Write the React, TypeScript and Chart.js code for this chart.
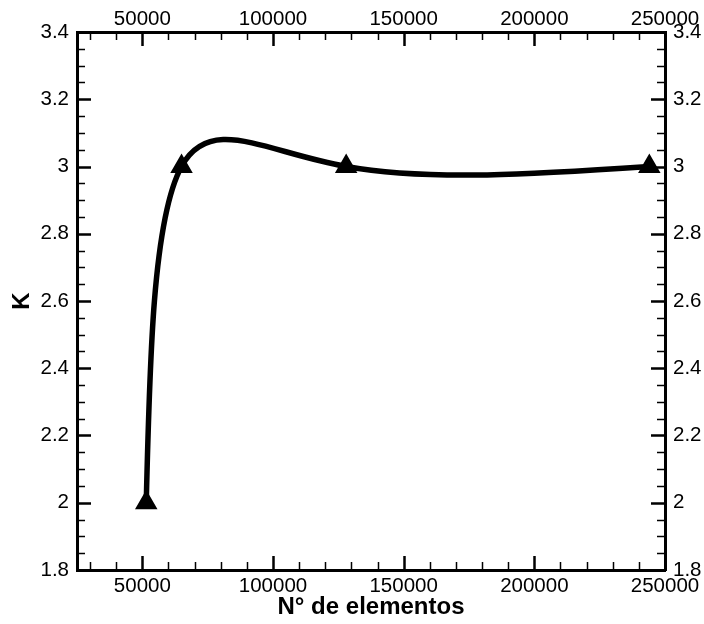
import React, { useEffect, useRef } from "react";
import { Chart, registerables } from "chart.js";

Chart.register(...registerables);

// ---- data ----
const elementos = [51500, 65000, 128000, 244000];
const kValues = [2, 3, 3, 3];

// ---- axes ----
const xMajorTicks = [50000, 100000, 150000, 200000, 250000];
const xMinorStep = 10000;
const xMin = 25000;
const xMax = 250000;
const yMajorTicks = [1.8, 2, 2.2, 2.4, 2.6, 2.8, 3, 3.2, 3.4];
const yTickLabels = ["1.8", "2", "2.2", "2.4", "2.6", "2.8", "3", "3.2", "3.4"];
const yMinorStep = 0.05;
const yMin = 1.8;
const yMax = 3.4;

const xTitle = "N° de elementos";
const yTitle = "K";

const FONT = "'Liberation Sans', Arial, Helvetica, sans-serif";

// natural cubic spline second derivatives, uniform parameter
function naturalM(v: number[]): number[] {
  const n = v.length;
  const M = new Array(n).fill(0);
  if (n < 3) return M;
  const m = n - 2;
  const a = new Array(m).fill(1);
  const b = new Array(m).fill(4);
  const c = new Array(m).fill(1);
  const d = new Array(m);
  for (let i = 1; i <= m; i++) d[i - 1] = 6 * (v[i + 1] - 2 * v[i] + v[i - 1]);
  const cp = new Array(m);
  const dp = new Array(m);
  cp[0] = c[0] / b[0];
  dp[0] = d[0] / b[0];
  for (let i = 1; i < m; i++) {
    const den = b[i] - a[i] * cp[i - 1];
    cp[i] = c[i] / den;
    dp[i] = (d[i] - a[i] * dp[i - 1]) / den;
  }
  const sol = new Array(m);
  sol[m - 1] = dp[m - 1];
  for (let i = m - 2; i >= 0; i--) sol[i] = dp[i] - cp[i] * sol[i + 1];
  for (let i = 0; i < m; i++) M[i + 1] = sol[i];
  return M;
}

const splineLine = {
  id: "splineLine",
  beforeDatasetsDraw(chart: any) {
    const { ctx } = chart;
    const xs = chart.scales.x;
    const ys = chart.scales.y;
    const px = elementos.map((v) => xs.getPixelForValue(v));
    const py = kValues.map((v) => ys.getPixelForValue(v));
    const Mx = naturalM(px);
    const My = naturalM(py);
    const dAt = (v: number[], M: number[], i: number) => {
      if (i < v.length - 1) return v[i + 1] - v[i] - (2 * M[i] + M[i + 1]) / 6;
      return v[i] - v[i - 1] + (M[i - 1] + 2 * M[i]) / 6;
    };
    ctx.save();
    ctx.strokeStyle = "#000";
    ctx.lineWidth = 5.5;
    ctx.lineJoin = "round";
    ctx.lineCap = "round";
    ctx.beginPath();
    ctx.moveTo(px[0], py[0]);
    for (let i = 0; i < px.length - 1; i++) {
      const dx0 = dAt(px, Mx, i);
      const dy0 = dAt(py, My, i);
      const dx1 = dAt(px, Mx, i + 1);
      const dy1 = dAt(py, My, i + 1);
      ctx.bezierCurveTo(
        px[i] + dx0 / 3,
        py[i] + dy0 / 3,
        px[i + 1] - dx1 / 3,
        py[i + 1] - dy1 / 3,
        px[i + 1],
        py[i + 1]
      );
    }
    ctx.stroke();
    ctx.restore();
  },
};

const innerTicks = {
  id: "innerTicks",
  afterDatasetsDraw(chart: any) {
    const { ctx, chartArea } = chart;
    const { left, right, top, bottom } = chartArea;
    const xs = chart.scales.x;
    const ys = chart.scales.y;
    ctx.save();
    ctx.strokeStyle = "#000";
    ctx.lineCap = "butt";
    const majorLen = 14;
    const minorLen = 8;
    for (let v = 30000; v < xMax; v += xMinorStep) {
      const isMajor = xMajorTicks.some((m) => Math.abs(m - v) < 1);
      const p = Math.round(xs.getPixelForValue(v)) + 0.5;
      const len = isMajor ? majorLen : minorLen;
      ctx.lineWidth = isMajor ? 2.5 : 1.5;
      ctx.beginPath();
      ctx.moveTo(p, bottom);
      ctx.lineTo(p, bottom - len);
      ctx.moveTo(p, top);
      ctx.lineTo(p, top + len);
      ctx.stroke();
    }
    for (let i = 1; i < Math.round((yMax - yMin) / yMinorStep); i++) {
      const v = yMin + i * yMinorStep;
      const isMajor = i % 4 === 0;
      const p = Math.round(ys.getPixelForValue(v)) + 0.5;
      const len = isMajor ? majorLen : minorLen;
      ctx.lineWidth = isMajor ? 2.5 : 1.5;
      ctx.beginPath();
      ctx.moveTo(left, p);
      ctx.lineTo(left + len, p);
      ctx.moveTo(right, p);
      ctx.lineTo(right - len, p);
      ctx.stroke();
    }
    ctx.restore();
  },
};

function setXTicks(scale: any) {
  scale.ticks = xMajorTicks.map((v) => ({ value: v }));
}
function setYTicks(scale: any) {
  scale.ticks = yMajorTicks.map((v) => ({ value: v }));
}
function yLabel(value: any) {
  const i = yMajorTicks.findIndex((t) => Math.abs(t - value) < 1e-6);
  return i >= 0 ? yTickLabels[i] : "";
}
function xLabel(value: any) {
  return String(Math.round(value));
}

const tickFont = { family: FONT, size: 20.5 };
const border = { display: true, width: 3, color: "#000" };
const noGrid = { display: false, drawTicks: false, tickLength: 0 };

export default function App() {
  const ref = useRef<HTMLCanvasElement | null>(null);
  useEffect(() => {
    if (!ref.current) return;
    const chart = new Chart(ref.current, {
      type: "line",
      data: {
        datasets: [
          {
            data: elementos.map((x, i) => ({ x, y: kValues[i] })),
            borderColor: "#000",
            backgroundColor: "#000",
            showLine: false,
            pointStyle: "triangle",
            pointRadius: 10,
            pointBorderWidth: 3,
            pointBackgroundColor: "#000",
            pointBorderColor: "#000",
            clip: false as any,
          },
        ],
      },
      options: {
        animation: false,
        responsive: false,
        maintainAspectRatio: false,
        layout: { padding: 0 },
        plugins: { legend: { display: false }, tooltip: { enabled: false } },
        scales: {
          x: {
            type: "linear",
            position: "bottom",
            min: xMin,
            max: xMax,
            afterBuildTicks: setXTicks,
            afterFit: (s: any) => {
              s.height = 54;
            },
            grid: noGrid,
            border,
            ticks: {
              font: tickFont,
              color: "#000",
              padding: 4,
              maxRotation: 0,
              autoSkip: false,
              callback: xLabel,
            },
            title: {
              display: true,
              text: xTitle,
              color: "#000",
              font: { family: FONT, size: 24, weight: "bold" },
              padding: { top: 0, bottom: 2 },
            },
          },
          x2: {
            type: "linear",
            position: "top",
            min: xMin,
            max: xMax,
            afterBuildTicks: setXTicks,
            afterFit: (s: any) => {
              s.height = 32;
            },
            grid: noGrid,
            border,
            ticks: {
              font: tickFont,
              color: "#000",
              padding: 0,
              maxRotation: 0,
              autoSkip: false,
              callback: xLabel,
            },
          },
          y: {
            type: "linear",
            position: "left",
            min: yMin,
            max: yMax,
            afterBuildTicks: setYTicks,
            afterFit: (s: any) => {
              s.width = 77;
            },
            grid: noGrid,
            border,
            ticks: {
              font: tickFont,
              color: "#000",
              padding: 8,
              autoSkip: false,
              callback: yLabel,
            },
            title: {
              display: true,
              text: yTitle,
              color: "#000",
              font: { family: FONT, size: 24, weight: "bold" },
              padding: { top: 8, bottom: 0 },
            },
          },
          y2: {
            type: "linear",
            position: "right",
            min: yMin,
            max: yMax,
            afterBuildTicks: setYTicks,
            afterFit: (s: any) => {
              s.width = 39;
            },
            grid: noGrid,
            border,
            ticks: {
              font: tickFont,
              color: "#000",
              padding: 8,
              autoSkip: false,
              callback: yLabel,
            },
          },
        },
      },
      plugins: [splineLine, innerTicks],
    } as any);
    return () => chart.destroy();
  }, []);
  return (
    <div style={{ position: "absolute", left: 0, top: 0, width: 704, height: 624, background: "#fff" }}>
      <canvas ref={ref} width={704} height={624} style={{ display: "block", width: 704, height: 624 }} />
    </div>
  );
}
